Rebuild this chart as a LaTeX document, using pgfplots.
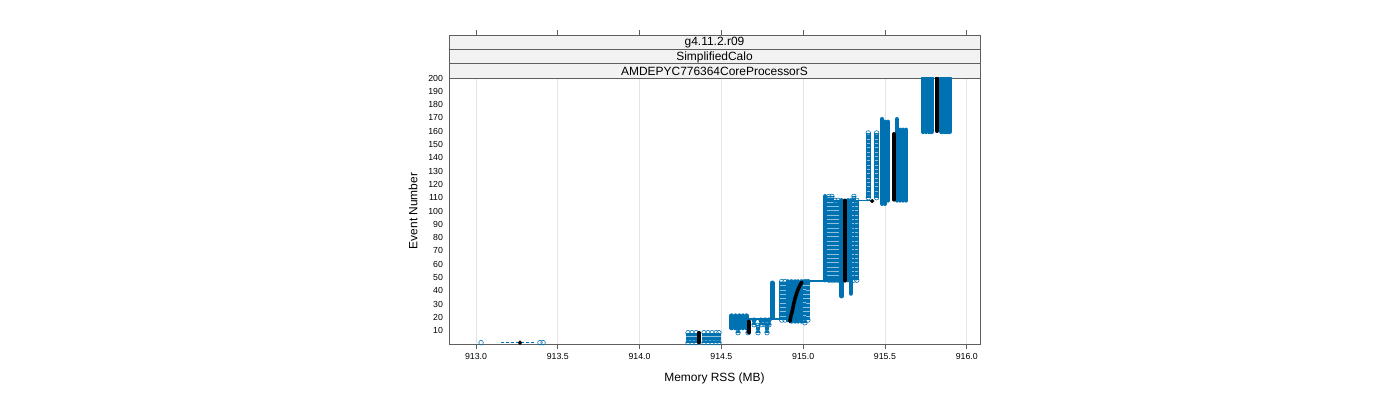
\documentclass[border=0pt]{standalone}
\usepackage{fontspec}
\setmainfont{Liberation Sans}
\usepackage{pgfplots}
\pgfplotsset{compat=1.18}
\definecolor{myblue}{RGB}{0,114,178}
\definecolor{axgray}{RGB}{95,95,95}
\definecolor{stripgray}{RGB}{242,242,242}
\definecolor{gridgray}{RGB}{228,228,228}
\pgfplotsset{
 scol/.style={draw=myblue, line width=4.6bp, line cap=round, mark=none, forget plot},
 lcolA/.style={draw=myblue, line width=0.7bp, double=myblue!45, double distance=3.3bp, mark=none, forget plot},
 lcolB/.style={draw=myblue, line width=3.3bp, dash pattern=on 0.7bp off 0.6bp, mark=none, forget plot},
 ends/.style={only marks, mark=o, mark size=2.3bp, mark options={draw=myblue, line width=0.6bp, solid, fill=none}, forget plot},
 blk/.style={draw=black, line width=3.6bp, line cap=round, line join=round, mark=none, forget plot},
 hl/.style={draw=myblue, line width=1.6bp, mark=none, forget plot},
}
\newcommand\scol[3]{\addplot[scol] coordinates {(#1,#2) (#1,#3)};}
\newcommand\lcol[3]{\addplot[lcolA] coordinates {(#1,#2) (#1,#3)};\addplot[lcolB] coordinates {(#1,#2) (#1,#3)};\addplot[ends] coordinates {(#1,#2) (#1,#3)};}
\begin{document}
\begin{tikzpicture}
\useasboundingbox (-449bp,-56bp) rectangle (951bp,344bp);
\begin{axis}[
 at={(0,0)}, anchor=south west,
 scale only axis, width=531bp, height=266bp,
 xmin=912.835, xmax=916.081, ymin=0, ymax=200,
 clip mode=individual,
 axis line style={draw=axgray, line width=0.6bp},
 xtick={913,913.5,914,914.5,915,915.5,916},
 xticklabels={913.0,913.5,914.0,914.5,915.0,915.5,916.0},
 scaled x ticks=false,
 ytick={10,20,...,200},
 xtick pos=left,
 ytick style={draw=none},
 xtick style={draw=axgray, line width=0.6bp},
 tick align=outside, major tick length=5bp,
 xmajorgrids, grid style={draw=gridgray, line width=0.6bp},
 ticklabel style={font=\fontsize{8.8}{10}\selectfont},
 xticklabel style={yshift=-1bp},
 yticklabel style={xshift=2.5bp},
 /pgf/number format/assume math mode=true,
 xlabel={Memory RSS (MB)}, ylabel={Event Number},
 label style={font=\fontsize{12}{14}\selectfont},
 xlabel style={at={(axis description cs:0.5,-0.128)}, anchor=center},
 ylabel style={at={(axis description cs:-0.0678,0.5)}, anchor=center},
]
% strips and top ticks
\draw[draw=axgray, line width=0.6bp, fill=stripgray] (rel axis cs:0,1) rectangle ([yshift=14.33bp]rel axis cs:1,1);
\draw[draw=axgray, line width=0.6bp, fill=stripgray] ([yshift=14.33bp]rel axis cs:0,1) rectangle ([yshift=28.67bp]rel axis cs:1,1);
\draw[draw=axgray, line width=0.6bp, fill=stripgray] ([yshift=28.67bp]rel axis cs:0,1) rectangle ([yshift=43bp]rel axis cs:1,1);
\node[font=\fontsize{12}{14}\selectfont, inner sep=0pt] at ([yshift=6.6bp]rel axis cs:0.5,1) {AMDEPYC776364CoreProcessorS};
\node[font=\fontsize{12}{14}\selectfont, inner sep=0pt] at ([yshift=20.9bp]rel axis cs:0.5,1) {SimplifiedCalo};
\node[font=\fontsize{12}{14}\selectfont, inner sep=0pt] at ([yshift=35.2bp]rel axis cs:0.5,1) {g4.11.2.r09};
\pgfplotsinvokeforeach{913,913.5,914,914.5,915,915.5,916}{
 \draw[draw=axgray, line width=0.6bp] ([yshift=43bp]axis cs:#1,200) -- ([yshift=48bp]axis cs:#1,200);
}
% group A
\addplot[ends] coordinates {(913.031,1) (913.391,1) (913.410,1)};
\addplot[draw=myblue, line width=1.4bp, dash pattern=on 3bp off 2bp, forget plot] coordinates {(913.15,1) (913.36,1)};
\addplot[only marks, mark=*, mark size=1.9bp, black, forget plot] coordinates {(913.269,1)};
% group B
\lcol{914.296}{1}{8.5}
\lcol{914.320}{1}{8.5}
\lcol{914.345}{1}{8.5}
\lcol{914.394}{1}{8.5}
\lcol{914.418}{1}{8.5}
\lcol{914.443}{1}{8.5}
\lcol{914.467}{1}{8.5}
\lcol{914.485}{1}{8.5}
\addplot[blk] coordinates {(914.363,1) (914.363,8.5)};
% group C
\lcol{914.602}{8.5}{14}
\lcol{914.663}{8.5}{14}
\lcol{914.724}{8.5}{14}
\lcol{914.779}{8.5}{14}
\lcol{914.700}{14.5}{18}
\lcol{914.742}{14.5}{18}
\lcol{914.767}{14.5}{18}
\lcol{914.791}{14.5}{18}
\scol{914.563}{12}{21.3}
\scol{914.587}{12}{21.3}
\scol{914.609}{12}{21.3}
\scol{914.631}{12}{21.3}
\scol{914.655}{12}{21.3}
\addplot[hl] coordinates {(914.56,19) (914.87,19)};
\addplot[blk] coordinates {(914.669,8.5) (914.669,17)};
% group D
\scol{914.812}{20}{46}
\lcol{914.869}{18}{47}
\lcol{914.889}{18}{47}
\scol{914.907}{18}{47}
\scol{914.930}{17}{47}
\scol{914.950}{17}{47}
\scol{914.968}{17}{47}
\scol{914.991}{17}{47}
\lcol{915.011}{16}{47}
\lcol{915.029}{18}{47}
\addplot[hl] coordinates {(914.99,47.3) (915.26,47.3)};
\addplot[blk] coordinates {(914.919,17) (914.925,21) (914.934,25) (914.942,30) (914.950,34) (914.960,38) (914.972,42) (914.984,45) (914.993,46.5)};
% group E
\scol{915.133}{48}{111}
\lcol{915.158}{48}{111}
\lcol{915.176}{48}{111}
\lcol{915.194}{48}{108}
\lcol{915.213}{48}{108}
\scol{915.235}{36}{108}
\scol{915.274}{48}{108}
\scol{915.292}{38}{108}
\lcol{915.310}{48}{111}
\lcol{915.328}{48}{108}
\addplot[blk] coordinates {(915.256,47.5) (915.256,108)};
\addplot[hl] coordinates {(915.30,107.8) (915.422,107.8)};
\addplot[only marks, mark=*, mark size=1.9bp, black, forget plot] coordinates {(915.422,107.5)};
% group F
\lcol{915.398}{110}{158.7}
\lcol{915.449}{110}{158.7}
\scol{915.482}{105.5}{169}
\scol{915.500}{105.5}{167}
\scol{915.518}{108}{167}
\scol{915.573}{108}{169}
\scol{915.592}{108}{161}
\scol{915.610}{108}{161}
\scol{915.629}{108}{161}
\addplot[blk] coordinates {(915.555,108.4) (915.555,158)};
% group G
\scol{915.733}{159.5}{200}
\scol{915.751}{159.5}{200}
\scol{915.769}{159.5}{200}
\scol{915.784}{159.5}{200}
\scol{915.847}{159.5}{200}
\scol{915.863}{159.5}{200}
\scol{915.879}{159.5}{200}
\scol{915.893}{159.5}{200}
\addplot[blk] coordinates {(915.818,160) (915.818,200)};
\end{axis}
\end{tikzpicture}
\end{document}
